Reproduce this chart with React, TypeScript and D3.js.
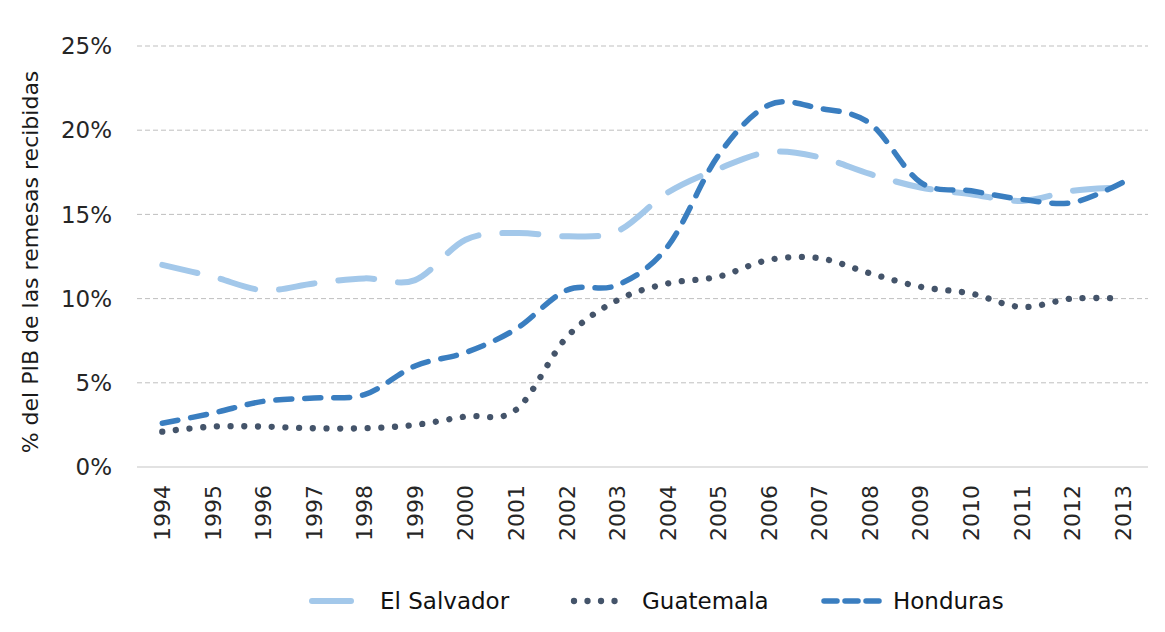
import React, { useEffect, useRef } from 'react';
import * as d3 from 'd3';

// remesas como % del PIB
const years = ['1994', '1995', '1996', '1997', '1998', '1999', '2000', '2001', '2002', '2003',
  '2004', '2005', '2006', '2007', '2008', '2009', '2010', '2011', '2012', '2013'];
const elSalvador = [12.0, 11.3, 10.5, 10.9, 11.2, 11.1, 13.5, 13.9, 13.7, 14.0,
  16.3, 17.7, 18.7, 18.4, 17.4, 16.6, 16.2, 15.8, 16.4, 16.6];
const guatemala = [2.1, 2.4, 2.4, 2.3, 2.3, 2.5, 3.0, 3.4, 7.7, 9.9,
  10.9, 11.3, 12.3, 12.4, 11.5, 10.7, 10.3, 9.5, 10.0, 10.0];
const honduras = [2.6, 3.2, 3.9, 4.1, 4.3, 6.0, 6.8, 8.2, 10.5, 10.8,
  13.1, 18.5, 21.5, 21.3, 20.4, 16.9, 16.4, 15.9, 15.7, 16.9];
const yTicks = [0, 5, 10, 15, 20, 25];
const seriesNames = ['El Salvador', 'Guatemala', 'Honduras'];

const FONT = '"DejaVu Sans", Verdana, sans-serif';

export default function App() {
  const svgRef = useRef<SVGSVGElement>(null);
  const width = 1165;
  const height = 632;

  useEffect(() => {
    const svg = d3.select(svgRef.current);
    svg.selectAll('*').remove();

    const x = d3.scaleBand().domain(years).range([137, 1148]);
    const y = d3.scaleLinear().domain([0, 25]).range([467, 46]);
    const cx = (d: string) => (x(d) as number) + x.bandwidth() / 2;

    // gridlines
    svg.append('g')
      .selectAll('line')
      .data(yTicks.filter(t => t > 0))
      .enter()
      .append('line')
      .attr('x1', 137).attr('x2', 1148)
      .attr('y1', d => y(d)).attr('y2', d => y(d))
      .attr('stroke', '#bfbfbf')
      .attr('stroke-width', 1)
      .attr('stroke-dasharray', '5,3');

    // x axis line
    svg.append('line')
      .attr('x1', 137).attr('x2', 1148)
      .attr('y1', y(0)).attr('y2', y(0))
      .attr('stroke', '#d9d9d9')
      .attr('stroke-width', 1.3);

    // y tick labels
    svg.append('g')
      .selectAll('text')
      .data(yTicks)
      .enter()
      .append('text')
      .attr('x', 112)
      .attr('y', d => y(d))
      .attr('dy', '0.36em')
      .attr('text-anchor', 'end')
      .style('font-family', FONT)
      .style('font-size', '23px')
      .attr('fill', '#262626')
      .text(d => d + '%');

    // x tick labels, rotated
    svg.append('g')
      .selectAll('text')
      .data(years)
      .enter()
      .append('text')
      .attr('transform', d => 'translate(' + cx(d) + ',485) rotate(-90)')
      .attr('dy', '0.36em')
      .attr('text-anchor', 'end')
      .style('font-family', FONT)
      .style('font-size', '22px')
      .attr('fill', '#262626')
      .text(d => d);

    // y axis title
    svg.append('text')
      .attr('transform', 'translate(30,262) rotate(-90)')
      .attr('dy', '0.36em')
      .attr('text-anchor', 'middle')
      .style('font-family', FONT)
      .style('font-size', '22px')
      .attr('fill', '#1a1a1a')
      .text('% del PIB de las remesas recibidas');

    const line = d3.line<number>()
      .x((d, i) => cx(years[i]))
      .y(d => y(d))
      .curve(d3.curveCatmullRom.alpha(0));

    const styles = [
      { data: elSalvador, color: '#a3c8ea', w: 6, dash: '36,24' },
      { data: guatemala, color: '#44546a', w: 6.3, dash: '0.01,13.7' },
      { data: honduras, color: '#3a7ec0', w: 5.5, dash: '16,13' },
    ];

    styles.forEach(s => {
      svg.append('path')
        .attr('d', line(s.data) as string)
        .attr('fill', 'none')
        .attr('stroke', s.color)
        .attr('stroke-width', s.w)
        .attr('stroke-linecap', 'round')
        .attr('stroke-dasharray', s.dash);
    });

    // legend
    const legend = [
      { x1: 312, x2: 351, dash: 'none', tx: 380 },
      { x1: 574, x2: 628, dash: '0.01,13.5', tx: 642 },
      { x1: 824, x2: 879, dash: '13,8', tx: 893 },
    ];
    const ly = 601;
    legend.forEach((l, i) => {
      svg.append('line')
        .attr('x1', l.x1).attr('x2', l.x2)
        .attr('y1', ly).attr('y2', ly)
        .attr('stroke', styles[i].color)
        .attr('stroke-width', styles[i].w)
        .attr('stroke-linecap', 'round')
        .attr('stroke-dasharray', l.dash);
      svg.append('text')
        .attr('x', l.tx)
        .attr('y', ly)
        .attr('dy', '0.36em')
        .style('font-family', FONT)
        .style('font-size', '23px')
        .attr('fill', '#111')
        .text(seriesNames[i]);
    });
  }, []);

  return (
    <div style={{ position: 'absolute', left: 0, top: 0 }}>
      <svg ref={svgRef} width={width} height={height} style={{ display: 'block', background: '#fff' }} />
    </div>
  );
}
